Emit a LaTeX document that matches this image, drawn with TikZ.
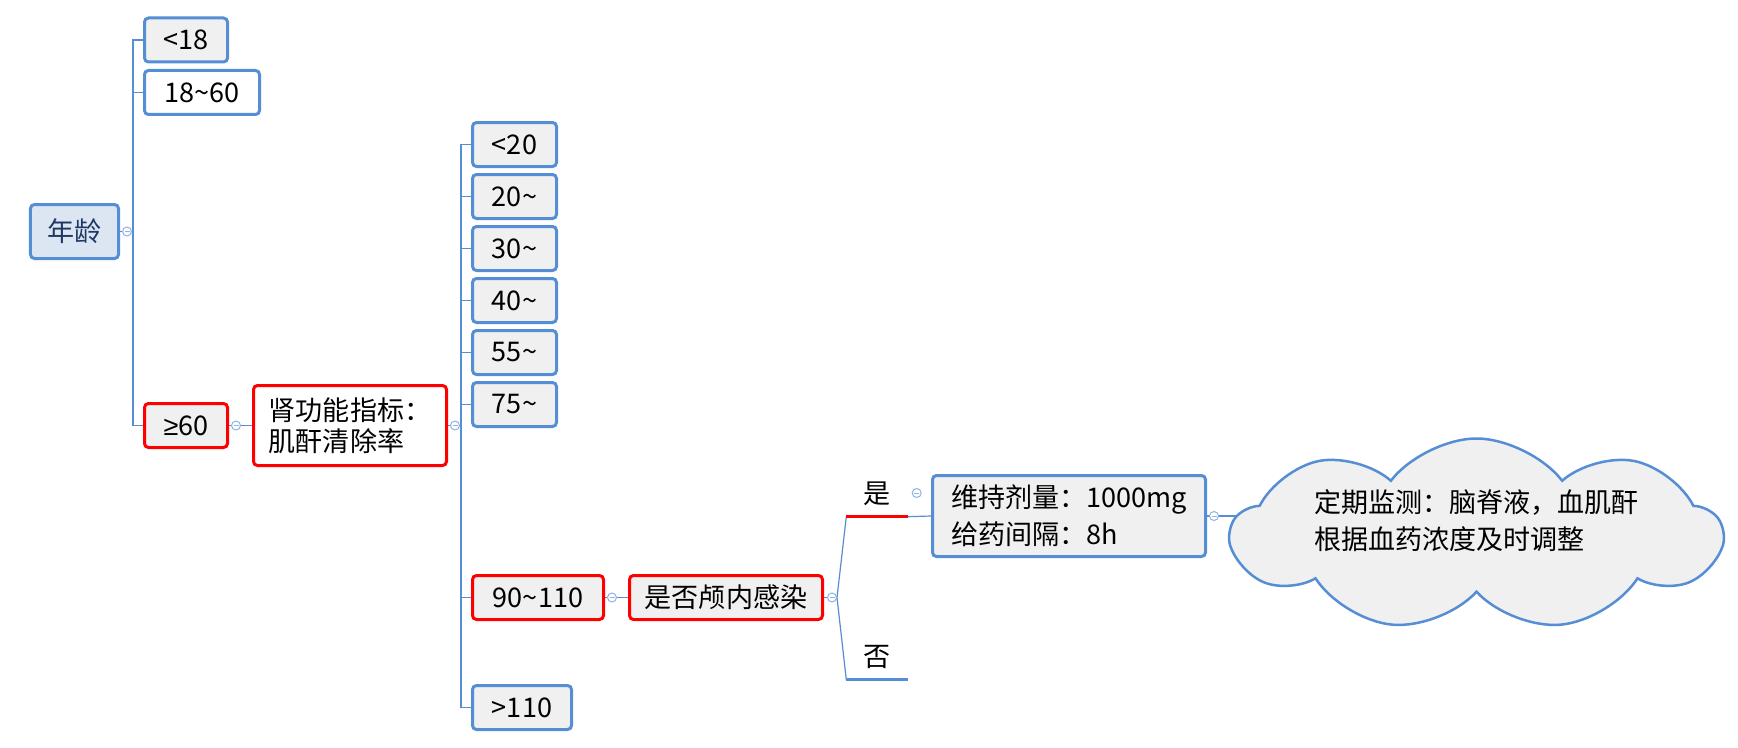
\documentclass[tikz,border=0pt]{standalone}
\usepackage{fontspec}
\setmainfont{Noto Sans CJK SC}
\newfontfamily\mathsym{Liberation Sans}
\usetikzlibrary{positioning,shapes.symbols,calc,backgrounds}
\definecolor{mmblue}{HTML}{558ED5}
\definecolor{mmgray}{HTML}{F0F0F0}
\definecolor{mmroot}{HTML}{DCE6F2}
\definecolor{mmred}{HTML}{FF0000}
\definecolor{mmink}{HTML}{1F3864}
\definecolor{mmfold}{HTML}{8EB4E3}
\newcommand\mmsize{\fontsize{7.7pt}{10.5pt}\selectfont}

\begin{document}
\begin{tikzpicture}[
    topic/.style={draw=mmblue, fill=mmgray, line width=0.03cm,
      rounded corners=0.04cm, inner sep=0pt, minimum height=0.44cm,
      font=\mmsize},
    hot/.style={topic, draw=mmred},
    branch/.style={inner sep=0pt, minimum width=0.6cm,
      minimum height=0.44cm, font=\mmsize},
    link/.style={draw=mmblue, line width=0.012cm},
    fold/.style={circle, draw=mmfold, fill=white, line width=0.01cm,
      minimum size=0.09cm, inner sep=0pt,
      path picture={\draw[mmfold, line width=0.01cm]
        ([xshift=-0.025cm]path picture bounding box.center) --
        ([xshift=0.025cm]path picture bounding box.center);}},
  ]
  \useasboundingbox (0,0) rectangle (17.38,7.47);

  % Root: age
  \node[topic, fill=mmroot, text=mmink, minimum width=0.88cm,
    minimum height=0.54cm] (age) at (0.745, 5.155) {年龄};
  \node[topic, minimum width=0.83cm] (a1) at (1.86, 7.07) {<18};
  \node[topic, fill=white, minimum width=1.15cm] (a2) at (2.02, 6.545)
    {18\textasciitilde60};
  \node[hot, minimum width=0.83cm] (a3) at (1.86, 3.215)
    {{\mathsym ≥}60};

  % Renal function
  \node[hot, fill=white, minimum width=1.93cm, minimum height=0.80cm,
    align=left, font=\fontsize{7.7pt}{8.8pt}\selectfont] (renal)
    at (3.50, 3.215) {肾功能指标：\\肌酐清除率};
  \foreach \lbl [count=\i] in {<20, 20\textasciitilde, 30\textasciitilde,
      40\textasciitilde, 55\textasciitilde, 75\textasciitilde}
    \node[topic, minimum width=0.84cm] (c\i) at (5.145, 6.545-0.52*\i)
      {\lbl};
  \node[hot, minimum width=1.31cm] (c7) at (5.38, 1.495)
    {90\textasciitilde110};
  \node[topic, minimum width=0.99cm] (c8) at (5.22, 0.395) {>110};

  % Intracranial infection
  \node[hot, minimum width=1.93cm] (infect) at (7.26, 1.495)
    {是否颅内感染};
  \node[branch] (yes) at (8.77, 2.53) {是};
  \node[branch] (no)  at (8.77, 0.90) {否};
  \node[topic, minimum width=2.73cm, minimum height=0.81cm,
    align=left] (dose) at (10.69, 2.31)
    {维持剂量：1000mg\\给药间隔：8h};
  \node[cloud, cloud puffs=9, cloud puff arc=105, cloud ignores aspect,
    draw=mmblue, fill=mmgray, line width=0.025cm, inner sep=0pt,
    minimum width=4.9cm, minimum height=1.92cm,
    font=\mmsize] (cloud) at (14.765, 2.125)
    {\raisebox{0.11cm}[\height][\depth]{\begin{tabular}{@{}l@{}}
      定期监测：脑脊液，血肌酐\\根据血药浓度及时调整\end{tabular}}};

  % Connectors
  \begin{scope}[on background layer]
    \fill[white] (0,0) rectangle (17.38,7.47);
    \coordinate (spineA) at ([xshift=-0.10cm]a1.west |- age.east);
    \coordinate (spineB) at ([xshift=-0.10cm]c1.west |- renal.east);
    \draw[link] (age.east) -- (spineA);
    \draw[link] (a1.west) -| (spineA) |- (a3.west);
    \draw[link] (a2.west) -- (a2.west -| spineA);
    \draw[link] (a3.east) -- (renal.west);
    \draw[link] (renal.east) -- (spineB);
    \draw[link] (c1.west) -| (spineB) |- (c8.west);
    \foreach \i in {2,...,7}
      \draw[link] (c\i.west) -- (c\i.west -| spineB);
    \draw[link] (c7.east) -- (infect.west);
    \draw[link] (infect.east) -- ([xshift=0.13cm]infect.east);
    \draw[link] ([xshift=0.13cm]infect.east) -- (yes.south west);
    \draw[link] ([xshift=0.13cm]infect.east) -- (no.south west);
    \draw[link] (yes.south east) -- (dose.west);
    \draw[link] (dose.east) -- (dose.east -| cloud.center);
  \end{scope}
  \draw[mmred, line width=0.03cm] (yes.south west) -- (yes.south east);
  \draw[mmblue, line width=0.025cm] (no.south west) -- (no.south east);

  % Fold markers
  \node[fold] (f1) at ([xshift=0.07cm]age.east) {};
  \node[fold] (f2) at ([xshift=0.07cm]a3.east) {};
  \node[fold] (f3) at ([xshift=0.07cm]renal.east) {};
  \node[fold] (f4) at ([xshift=0.07cm]c7.east) {};
  \node[fold] (f5) at ([xshift=0.08cm]infect.east) {};
  \node[fold] (f6) at ([xshift=0.09cm, yshift=0.01cm]yes.east) {};
  \node[fold] (f7) at ([xshift=0.07cm]dose.east) {};
\end{tikzpicture}
\end{document}
